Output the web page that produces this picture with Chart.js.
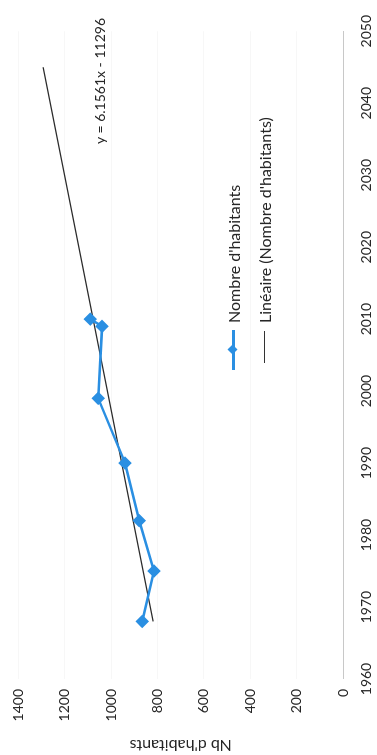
<!DOCTYPE html>
<html>
<head>
<meta charset="utf-8">
<script src="https://cdn.jsdelivr.net/npm/chart.js@4"></script>
<style>
  html, body { margin: 0; padding: 0; background: #fff; width: 377px; height: 755px; overflow: hidden; }
  /* the sheet is laid out landscape, then turned a quarter turn */
  #sheet {
    position: absolute; left: 0; top: 0; width: 755px; height: 377px;
    transform-origin: 0 0; transform: translate(0, 755px) rotate(-90deg);
    font-family: Lato, "Open Sans", sans-serif; color: #262626; background: #fff;
  }
  #sheet canvas { position: absolute; left: 0; top: 0; }
  .txt { position: absolute; white-space: nowrap; }
  .swatch { position: absolute; }
</style>
</head>
<body>
<div id="sheet">
  <canvas id="chart" width="755" height="377"></canvas>
  <div class="txt" id="equation" style="left:611px; top:91px; font-size:14px; line-height:17px;"></div>
  <!-- legend -->
  <div class="swatch" style="left:385px; top:232px; width:40px; height:3px; background:#2a8fe2;"></div>
  <div class="swatch" style="left:402px; top:229px; width:7px; height:7px; background:#2a8fe2; transform:rotate(45deg);"></div>
  <div class="txt" id="leg1" style="left:432px; top:224px; font-size:16px; line-height:19px;"></div>
  <div class="swatch" style="left:392px; top:264px; width:32px; height:1px; background:#333;"></div>
  <div class="txt" id="leg2" style="left:432px; top:255px; font-size:16px; line-height:19px;"></div>
</div>
<script>
// population counts by census year
const censusYears = [1968, 1975, 1982, 1990, 1999, 2009, 2010];
const habitants   = [866, 815, 879, 940, 1056, 1039, 1090];

// linear trend y = a*x + b and the span of years it is drawn over
const trendSlope = 6.1561;
const trendIntercept = -11296;
const trendYears = [1968, 2045];

// axis ranges
const yearAxis  = { min: 1960, max: 2050, step: 10 };
const valueAxis = { min: 0, max: 1400, step: 200 };

const seriesName = "Nombre d'habitants";
const trendName = "Linéaire (Nombre d'habitants)";
const valueTitle = "Nb d'habitants";

document.getElementById('equation').textContent =
  'y = ' + trendSlope + 'x - ' + Math.abs(trendIntercept);
document.getElementById('leg1').textContent = seriesName;
document.getElementById('leg2').textContent = trendName;

const seriesPoints = censusYears.map((yr, i) => ({ x: yr, y: habitants[i] }));
const trendPoints = trendYears.map(yr => ({ x: yr, y: trendSlope * yr + trendIntercept }));

const family = 'Lato, "Open Sans", sans-serif';
const tickFont = { family, size: 14 };
const titleFont = { family, size: 16 };

new Chart(document.getElementById('chart'), {
  type: 'scatter',
  data: {
    datasets: [
      {
        label: trendName,
        data: trendPoints,
        showLine: true,
        borderColor: '#2b2b2b',
        borderWidth: 1.2,
        pointRadius: 0,
        order: 2
      },
      {
        label: seriesName,
        data: seriesPoints,
        showLine: true,
        borderColor: '#2a8fe2',
        backgroundColor: '#2a8fe2',
        borderWidth: 2.5,
        pointStyle: 'rectRot',
        pointRadius: 5,
        pointHoverRadius: 5,
        order: 1
      }
    ]
  },
  options: {
    responsive: false,
    animation: false,
    devicePixelRatio: 1,
    layout: { padding: { top: 18, right: 23, left: 0, bottom: 0 } },
    plugins: { legend: { display: false }, tooltip: { enabled: false } },
    scales: {
      x: {
        type: 'linear',
        min: yearAxis.min, max: yearAxis.max,
        afterFit: s => { s.height = 34; },
        ticks: { stepSize: yearAxis.step, color: '#262626', font: tickFont, padding: 15,
                 maxRotation: 0, callback: v => String(v) },
        grid: { display: false, drawTicks: false },
        border: { display: true, color: '#c8c8c8', dash: [2, 3], width: 1 }
      },
      y: {
        min: valueAxis.min, max: valueAxis.max,
        afterFit: s => { s.width = 76; },
        ticks: { stepSize: valueAxis.step, color: '#262626', font: tickFont, padding: 10,
                 callback: v => String(v) },
        grid: { color: 'rgba(0,0,0,0.03)', drawTicks: false },
        border: { display: false },
        title: { display: true, text: valueTitle, color: '#262626', font: titleFont, padding: { top: 0, bottom: 2 } }
      }
    }
  }
});
</script>
</body>
</html>
